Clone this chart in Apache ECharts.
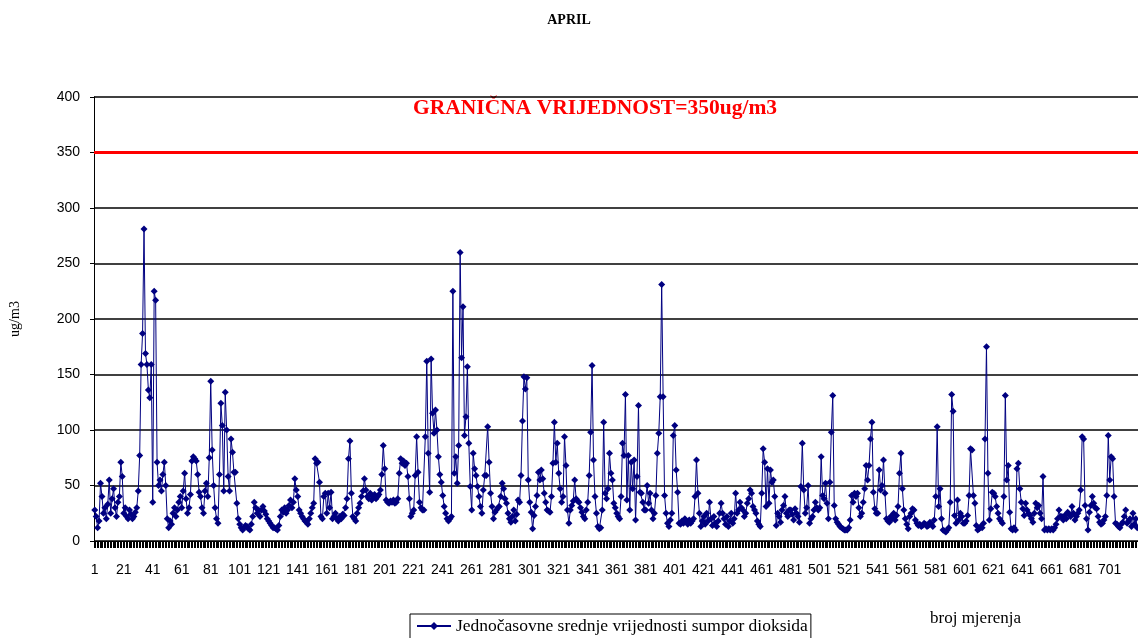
<!DOCTYPE html>
<html>
<head>
<meta charset="utf-8">
<script src="https://cdn.jsdelivr.net/npm/echarts@6/dist/echarts.min.js"></script>
<style>
  html, body { margin: 0; padding: 0; background: #fff; }
  #box1 { width: 1138px; height: 638px; }
</style>
</head>
<body>
<div id="box1"></div>
<script>
// hourly SO2 values, April
var so2 = [
  28, 22, 12, 18, 52, 40, 25, 30, 20, 33, 55, 25, 38, 47, 30, 22, 35, 40, 71, 58,
  25, 30, 22, 20, 28, 24, 20, 22, 26, 30, 45, 77, 159, 187, 281, 169, 159, 136, 129, 159,
  35, 225, 217, 71, 50, 55, 45, 60, 71, 50, 20, 12, 18, 15, 25, 30, 22, 28, 35, 40,
  30, 45, 61, 38, 25, 30, 42, 72, 76, 74, 72, 60, 44, 40, 30, 25, 45, 52, 40, 75,
  144, 82, 50, 30, 20, 16, 60, 124, 104, 45, 134, 100, 58, 45, 92, 80, 62, 62, 34, 20,
  15, 12, 10, 12, 14, 13, 11, 10, 15, 22, 35, 30, 25, 28, 22, 28, 31, 27, 24, 20,
  18, 16, 14, 12, 12, 11, 10, 14, 22, 28, 26, 30, 25, 28, 32, 37, 30, 35, 56, 46,
  40, 28, 25, 22, 20, 18, 17, 15, 20, 25, 30, 34, 74, 70, 71, 53, 22, 20, 40, 43,
  25, 43, 30, 44, 20, 22, 25, 20, 18, 22, 20, 24, 23, 30, 38, 74, 90, 43, 22, 20,
  18, 25, 30, 34, 40, 45, 56, 46, 40, 38, 43, 37, 40, 42, 38, 40, 42, 46, 60, 86,
  65, 37, 35, 34, 36, 35, 37, 34, 35, 38, 61, 74, 70, 72, 68, 70, 58, 38, 22, 25,
  28, 59, 94, 62, 35, 30, 28, 28, 94, 162, 79, 44, 164, 115, 97, 118, 100, 76, 60, 53,
  41, 31, 25, 20, 18, 20, 22, 225, 61, 76, 52, 86, 260, 165, 211, 95, 112, 157, 88, 49,
  28, 79, 65, 59, 49, 40, 31, 25, 46, 59, 59, 103, 71, 43, 31, 20, 26, 28, 30, 31,
  40, 52, 47, 38, 34, 25, 20, 17, 22, 28, 18, 24, 37, 35, 59, 108, 148, 137, 147, 55,
  35, 26, 11, 23, 31, 41, 62, 55, 64, 56, 43, 35, 28, 27, 26, 40, 70, 107, 71, 88,
  61, 47, 35, 40, 94, 68, 28, 16, 28, 32, 36, 55, 38, 36, 35, 30, 26, 22, 20, 28,
  35, 59, 98, 158, 73, 40, 25, 13, 11, 12, 28, 107, 43, 38, 47, 79, 61, 55, 34, 30,
  25, 22, 20, 40, 88, 77, 132, 37, 77, 28, 71, 47, 73, 19, 58, 122, 44, 43, 35, 28,
  28, 50, 34, 43, 28, 20, 25, 41, 79, 97, 130, 231, 130, 41, 25, 16, 13, 19, 25, 95,
  104, 64, 44, 16, 15, 18, 16, 20, 17, 15, 19, 16, 18, 20, 40, 73, 43, 25, 13, 18,
  22, 15, 25, 18, 35, 20, 14, 22, 16, 13, 18, 25, 34, 25, 20, 15, 22, 13, 18, 25,
  16, 20, 43, 25, 28, 35, 30, 28, 22, 25, 34, 38, 46, 43, 31, 28, 25, 18, 15, 13,
  43, 83, 71, 31, 65, 34, 64, 53, 55, 40, 14, 25, 22, 17, 28, 32, 40, 25, 22, 28,
  28, 24, 19, 29, 25, 22, 17, 49, 88, 46, 25, 30, 50, 16, 20, 22, 28, 35, 30, 28,
  30, 76, 41, 38, 52, 34, 20, 53, 98, 131, 32, 20, 17, 15, 13, 12, 11, 10, 10, 10,
  12, 19, 41, 35, 43, 40, 43, 30, 22, 25, 35, 47, 68, 55, 68, 92, 107, 44, 29, 25,
  25, 64, 46, 50, 73, 43, 20, 18, 17, 22, 20, 25, 19, 23, 31, 61, 79, 47, 28, 20,
  15, 11, 22, 25, 29, 28, 19, 16, 14, 15, 13, 14, 16, 15, 13, 14, 17, 15, 13, 19,
  40, 103, 31, 47, 20, 10, 9, 8, 10, 12, 35, 132, 117, 23, 16, 37, 19, 25, 22, 16,
  16, 18, 23, 41, 83, 82, 41, 34, 14, 10, 11, 13, 12, 16, 92, 175, 61, 19, 29, 44,
  43, 40, 31, 25, 20, 18, 16, 40, 131, 55, 68, 26, 11, 10, 12, 10, 65, 70, 47, 35,
  29, 23, 34, 28, 25, 23, 20, 17, 25, 34, 30, 32, 25, 20, 58, 10, 11, 10, 11, 10,
  11, 10, 12, 15, 20, 28, 22, 22, 19, 23, 20, 26, 24, 22, 31, 25, 19, 22, 25, 28,
  46, 94, 92, 32, 20, 10, 26, 32, 40, 34, 30, 29, 22, 17, 15, 16, 19, 22, 41, 95,
  55, 76, 74, 40, 16, 15, 13, 12, 15, 17, 22, 28, 16, 18, 20, 13, 25, 15, 20, 12
];
// measurement numbers 1..720
var categories = so2.map(function (v, i) { return String(i + 1); });
var limitValue = 350;
var limitText = 'GRANIČNA VRIJEDNOST=350ug/m3';
var seriesName = 'Jednočasovne srednje vrijednosti sumpor dioksida';

var serif = "'Liberation Serif', 'Times New Roman', serif";
var sans = "'Liberation Sans', Arial, sans-serif";

var dom = document.getElementById('box1');
var myChart = echarts.init(dom);
var option = {
  backgroundColor: '#fff',
  animation: false,
  title: {
    text: 'APRIL',
    left: 'center',
    top: 8,
    textStyle: { fontFamily: serif, fontSize: 14, fontWeight: 'bold', color: '#000' }
  },
  legend: {
    left: 410,
    top: 614,
    borderColor: '#000',
    borderWidth: 1,
    borderRadius: 0,
    padding: [3, 3, 6, 6],
    itemWidth: 34,
    itemHeight: 10,
    textStyle: { fontFamily: serif, fontSize: 17.5, color: '#000' },
    data: [seriesName]
  },
  graphic: [
    {
      // limit label, sits between the 350 and 400 gridlines
      type: 'text',
      left: 413,
      top: 97,
      style: { text: limitText, fill: '#ff0000', font: 'bold 21.5px ' + serif }
    },
    {
      type: 'text',
      left: 930,
      top: 610,
      style: { text: 'broj mjerenja', fill: '#000', font: '17px ' + serif }
    }
  ],
  grid: { left: 92, right: 0, top: 97, bottom: 97, containLabel: false },
  xAxis: {
    type: 'category',
    data: categories,
    boundaryGap: true,
    axisLine: { lineStyle: { color: '#000', width: 1 } },
    axisTick: { show: true, interval: 0, length: 7, lineStyle: { color: '#000' } },
    axisLabel: {
      interval: 19,
      margin: 22,
      fontFamily: sans,
      fontSize: 14,
      color: '#000'
    },
    splitLine: { show: false }
  },
  yAxis: {
    type: 'value',
    min: 0,
    max: 400,
    interval: 50,
    name: 'ug/m3',
    nameLocation: 'middle',
    nameGap: 72,
    nameRotate: 90,
    nameTextStyle: { fontFamily: serif, fontSize: 14, color: '#000' },
    axisLine: { show: true, lineStyle: { color: '#000', width: 1 } },
    axisTick: { show: true, length: 4, lineStyle: { color: '#000' } },
    axisLabel: { margin: 14, fontFamily: sans, fontSize: 14, color: '#000' },
    splitLine: { show: true, lineStyle: { color: '#000', width: 1.5 } }
  },
  series: [
    {
      name: seriesName,
      type: 'line',
      data: so2,
      symbol: 'diamond',
      symbolSize: 7,
      showAllSymbol: true,
      color: '#000080',
      lineStyle: { color: '#000080', width: 1 },
      itemStyle: { color: '#000080' },
      markLine: {
        silent: true,
        symbol: 'none',
        label: { show: false },
        lineStyle: { color: '#ff0000', width: 3, type: 'solid' },
        data: [{ yAxis: limitValue }]
      }
    }
  ]
};

if (option && typeof option === 'object') {
  myChart.setOption(option);
}
</script>
</body>
</html>
